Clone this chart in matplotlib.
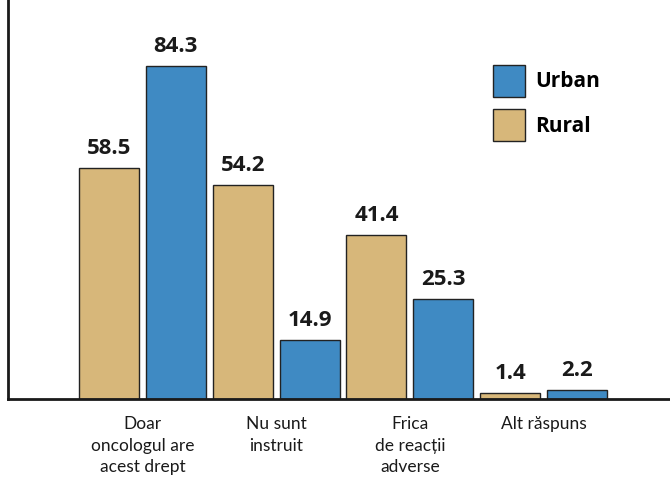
import matplotlib.pyplot as plt
import numpy as np
from matplotlib.patches import Patch
from matplotlib import font_manager

categories = ["Doar\noncologul are\nacest drept", "Nu sunt\ninstruit", "Frica\nde reacții\nadverse", "Alt răspuns"]
rural = [58.5, 54.2, 41.4, 1.4]
urban = [84.3, 14.9, 25.3, 2.2]

rural_color = "#D7B77A"
urban_color = "#3F8AC3"
edge = "#222222"

plt.rcParams['font.family'] = ['Open Sans', 'DejaVu Sans']
names = {f.name for f in font_manager.fontManager.ttflist}
tick_family = ['Liberation Sans Narrow', 'DejaVu Sans'] if 'Liberation Sans Narrow' in names else ['Lato', 'DejaVu Sans']

fig = plt.figure(figsize=(6.70, 4.83), dpi=100)
ax = fig.add_axes([8/670, 84/483, 662/670, 399/483])

x = np.arange(len(categories))
w = 0.449
off = 0.25
b1 = ax.bar(x - off, rural, w, color=rural_color, edgecolor=edge, linewidth=1)
b2 = ax.bar(x + off, urban, w, color=urban_color, edgecolor=edge, linewidth=1)

for bars, vals in ((b1, rural), (b2, urban)):
    for b, v in zip(bars, vals):
        ax.text(b.get_x() + b.get_width()/2, v + 3.6, f"{v:.1f}", ha="center", va="baseline",
                fontsize=16, fontweight="bold", color="#1a1a1a")

ax.set_xlim(-1.006, 3.946)
ax.set_ylim(0, 101)
ax.set_xticks(x)
ax.set_xticklabels(categories, fontsize=12.5, linespacing=1.45, color="#1a1a1a", family=tick_family)
ax.tick_params(axis="x", length=0, pad=12)
ax.set_yticks([])
ax.spines["top"].set_visible(False)
ax.spines["right"].set_visible(False)
ax.spines["left"].set_linewidth(2)
ax.spines["bottom"].set_linewidth(2)
ax.spines["left"].set_color("#1a1a1a")
ax.spines["bottom"].set_color("#1a1a1a")

handles = [Patch(facecolor=urban_color, edgecolor=edge, label="Urban"),
           Patch(facecolor=rural_color, edgecolor=edge, label="Rural")]
leg = ax.legend(handles=handles, loc="upper left", bbox_to_anchor=(0.733, 0.837),
                frameon=False, borderpad=0, borderaxespad=0, handlelength=1.53,
                handleheight=1.95, labelspacing=0.62, handletextpad=0.5,
                prop={"size": 15, "weight": "bold"})

fig.savefig("out.png", dpi=100)
